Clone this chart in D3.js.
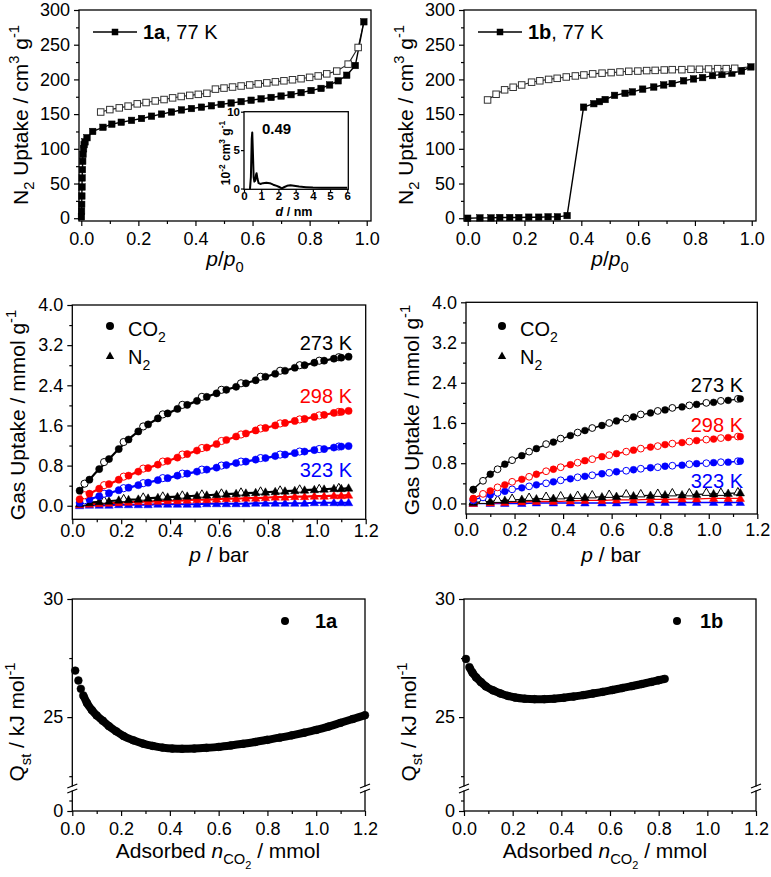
<!DOCTYPE html>
<html><head><meta charset="utf-8">
<script src="https://cdn.jsdelivr.net/npm/d3@7"></script>
<style>body{margin:0;background:#fff}</style>
</head><body><script>
// ---------------- DATA ----------------
// Panel (a) top-left: 1a N2 at 77 K
const n2aAdsP = [0.0005,0.001,0.0015,0.002,0.0025,0.003,0.004,0.005,0.006,0.008,0.010,0.013,0.02,0.04,0.076,0.107,0.14,0.176,0.211,0.246,0.281,0.316,0.351,0.386,0.421,0.456,0.49,0.525,0.56,0.595,0.63,0.665,0.70,0.735,0.77,0.805,0.84,0.87,0.90,0.93,0.96,0.99];
const n2aAdsV = [2,10,20,32,45,58,70,82,92,100,106,110,116,125,131,135.5,138.3,141,143.7,147,150,153,156,158,160,162,164,166,168,170,172,174,176,178,181,184,187,192,198,206,220,283];
const n2aDesP = [0.99,0.97,0.935,0.895,0.86,0.83,0.80,0.77,0.74,0.71,0.68,0.65,0.62,0.59,0.56,0.53,0.50,0.47,0.44,0.41,0.38,0.35,0.32,0.29,0.259,0.227,0.196,0.164,0.133,0.10,0.068];
const n2aDesV = [283,246,222,212,208,205,203,201,199.5,198,196.5,195,193.5,192,190.5,189,187.5,186,180,178.5,177,175.4,173.4,171,169,166.7,164.8,161.5,159,156.5,153];
// Inset: pore size distribution
const psdD = [0.30,0.35,0.40,0.45,0.48,0.52,0.56,0.60,0.65,0.70,0.73,0.78,0.85,0.95,1.1,1.3,1.5,1.7,1.9,2.05,2.2,2.35,2.5,2.7,2.9,3.2,3.6,4.0,4.5,5.0,5.5,6.0];
const psdV = [0,0,1.5,6.5,7.3,4.5,1.5,0.9,1.0,1.8,2.0,1.3,0.7,0.6,0.7,0.75,0.7,0.5,0.35,0.2,0.02,0.2,0.35,0.42,0.35,0.25,0.18,0.12,0.1,0.1,0.1,0.1];
// Panel (b) top-right: 1b N2 at 77 K
const n2bAdsP = [0.0,0.043,0.082,0.113,0.148,0.18,0.215,0.25,0.283,0.316,0.35,0.408,0.444,0.464,0.484,0.517,0.554,0.58,0.616,0.655,0.69,0.72,0.76,0.795,0.827,0.862,0.895,0.93,0.964,0.997];
const n2bAdsV = [0,0.5,0.5,1,1,1,1.5,1.5,2,2,3.8,160,165,168,171,177,180,182,186,189,192,194,198,200.7,202.6,205.5,207,209,212,218];
const n2bDesP = [0.997,0.94,0.91,0.88,0.848,0.816,0.786,0.754,0.72,0.692,0.66,0.63,0.599,0.567,0.536,0.505,0.473,0.44,0.409,0.379,0.347,0.315,0.285,0.254,0.225,0.19,0.16,0.13,0.10,0.07];
const n2bDesV = [218,216,215.5,215.5,215,214.6,214.6,214,214,213.6,213,212.7,212,211.7,210.7,209.8,209,208,206.4,205,203.5,201.6,200,198,196,192,188.7,185,178.6,170.4];
// Panel (c) middle-left: 1a gas uptake
const pAds1a = [0.03,0.07,0.11,0.15,0.19,0.23,0.27,0.31,0.35,0.39,0.43,0.47,0.51,0.55,0.59,0.63,0.67,0.71,0.75,0.79,0.83,0.87,0.91,0.95,0.99,1.03,1.07,1.10,1.13];
const co2a273 = [0.30,0.52,0.73,0.93,1.13,1.32,1.48,1.62,1.74,1.84,1.93,2.01,2.09,2.17,2.24,2.31,2.37,2.44,2.50,2.57,2.63,2.69,2.75,2.80,2.85,2.89,2.93,2.95,2.97];
const co2a298 = [0.13,0.24,0.34,0.43,0.52,0.60,0.68,0.75,0.82,0.89,0.96,1.03,1.10,1.16,1.23,1.31,1.38,1.44,1.50,1.55,1.60,1.65,1.69,1.73,1.77,1.81,1.85,1.87,1.89];
const co2a323 = [0.06,0.13,0.19,0.25,0.31,0.36,0.41,0.46,0.51,0.55,0.60,0.64,0.68,0.72,0.76,0.81,0.85,0.88,0.92,0.95,0.99,1.02,1.05,1.08,1.11,1.13,1.16,1.18,1.19];
const n2a273 = [0.04,0.06,0.08,0.09,0.11,0.12,0.13,0.15,0.16,0.17,0.18,0.19,0.20,0.21,0.22,0.23,0.24,0.25,0.26,0.27,0.28,0.29,0.30,0.31,0.32,0.33,0.34,0.34,0.35];
const n2a298 = [0.02,0.03,0.04,0.05,0.06,0.07,0.08,0.08,0.09,0.10,0.10,0.11,0.12,0.12,0.13,0.14,0.14,0.15,0.15,0.16,0.17,0.17,0.18,0.18,0.19,0.19,0.20,0.20,0.21];
const n2a323 = [0.00,0.01,0.01,0.01,0.02,0.02,0.02,0.02,0.03,0.03,0.03,0.03,0.03,0.04,0.04,0.04,0.04,0.04,0.05,0.05,0.05,0.05,0.05,0.05,0.06,0.06,0.06,0.06,0.06];
const pDes1a = [0.05,0.13,0.21,0.29,0.37,0.45,0.53,0.61,0.69,0.77,0.85,0.93,1.01,1.09];
const co2a273d = [0.44,0.87,1.27,1.58,1.82,2.01,2.17,2.31,2.44,2.57,2.69,2.80,2.89,2.96];
const co2a298d = [0.21,0.41,0.58,0.74,0.88,1.02,1.15,1.29,1.42,1.54,1.64,1.72,1.80,1.87];
const co2a323d = [0.11,0.24,0.35,0.45,0.55,0.64,0.72,0.80,0.88,0.95,1.02,1.08,1.13,1.18];
const n2a273d = [0.07,0.11,0.14,0.17,0.19,0.21,0.23,0.25,0.27,0.29,0.31,0.33,0.34,0.36];
// Panel (d) middle-right: 1b gas uptake
const pAds1b = [0.03,0.10,0.16,0.23,0.29,0.36,0.43,0.49,0.56,0.62,0.69,0.76,0.82,0.89,0.95,1.02,1.08,1.13];
const co2b273 = [0.28,0.58,0.78,0.95,1.09,1.22,1.35,1.45,1.55,1.64,1.72,1.80,1.86,1.92,1.97,2.01,2.05,2.08];
const co2b298 = [0.10,0.25,0.37,0.48,0.58,0.68,0.77,0.85,0.93,0.99,1.06,1.12,1.17,1.21,1.25,1.28,1.31,1.33];
const co2b323 = [0.07,0.17,0.24,0.31,0.37,0.43,0.49,0.54,0.59,0.63,0.67,0.71,0.74,0.76,0.79,0.81,0.82,0.84];
const n2b273 = [0.02,0.04,0.06,0.08,0.09,0.10,0.11,0.12,0.13,0.14,0.15,0.16,0.17,0.17,0.18,0.19,0.20,0.21];
const n2b298 = [0.00,0.01,0.02,0.03,0.04,0.04,0.05,0.06,0.06,0.07,0.07,0.08,0.08,0.09,0.09,0.10,0.10,0.10];
const n2b323 = [0.00,0.00,0.00,0.00,0.01,0.01,0.01,0.01,0.01,0.01,0.02,0.02,0.02,0.02,0.02,0.02,0.02,0.02];
const pDes1b = [0.03,0.07,0.13,0.19,0.26,0.33,0.39,0.46,0.52,0.59,0.66,0.72,0.79,0.85,0.92,0.99,1.05,1.12];
const co2b273d = [0.27,0.45,0.68,0.86,1.03,1.18,1.29,1.41,1.50,1.60,1.69,1.77,1.84,1.90,1.95,2.00,2.04,2.08];
const co2b298d = [0.09,0.19,0.32,0.43,0.53,0.64,0.72,0.81,0.88,0.96,1.03,1.09,1.14,1.19,1.23,1.27,1.30,1.33];
const co2b323d = [0.06,0.12,0.21,0.28,0.34,0.40,0.46,0.52,0.56,0.61,0.65,0.69,0.72,0.75,0.78,0.80,0.82,0.84];
const n2b273d = [0.04,0.06,0.08,0.10,0.12,0.14,0.15,0.16,0.17,0.18,0.19,0.19,0.20,0.21,0.21,0.22,0.22,0.23];
// Panel (e) bottom-left: Qst 1a
const qaN = [0.012,0.025,0.035,0.045,0.06,0.08,0.10,0.125,0.15,0.18,0.21,0.25,0.29,0.33,0.37,0.41,0.45,0.50,0.55,0.60,0.65,0.70,0.75,0.80,0.85,0.90,0.95,1.00,1.05,1.10,1.15,1.20];
const qaQ = [26.97,26.55,26.2,25.92,25.6,25.3,25.07,24.85,24.62,24.4,24.2,24.02,23.88,23.78,23.71,23.67,23.66,23.67,23.7,23.74,23.8,23.87,23.95,24.04,24.13,24.23,24.34,24.46,24.6,24.76,24.92,25.08];
// Panel (f) bottom-right: Qst 1b
const qbN = [0.008,0.022,0.035,0.05,0.07,0.09,0.12,0.15,0.18,0.21,0.25,0.29,0.33,0.37,0.41,0.45,0.49,0.53,0.57,0.61,0.65,0.69,0.73,0.77,0.80,0.825];
const qbQ = [27.46,27.12,26.88,26.68,26.48,26.3,26.13,26.0,25.9,25.83,25.78,25.76,25.76,25.78,25.82,25.87,25.93,26.0,26.07,26.15,26.23,26.31,26.4,26.49,26.56,26.62];
// Tick values
const ticksRel = [0,0.2,0.4,0.6,0.8,1.0], ticksRelMinor = [0.1,0.3,0.5,0.7,0.9];
const ticksN2 = [0,50,100,150,200,250,300], ticksN2Minor = [25,75,125,175,225,275];
const ticksBar = [0,0.2,0.4,0.6,0.8,1.0,1.2], ticksBarMinor = [0.1,0.3,0.5,0.7,0.9,1.1];
const ticksUp = [0,0.8,1.6,2.4,3.2,4.0], ticksUpMinor = [0.4,1.2,2.0,2.8,3.6];
const ticksQ = [25,30], ticksQMinor = [22.5,27.5], ticksQLow = [0], ticksQLowMinor = [1];
const insetXT = [0,1,2,3,4,5,6], insetYT = [0,5,10];

// ---------------- DRAWING ----------------
const FONT = '"Liberation Sans", Arial, Helvetica, sans-serif';
const svg = d3.select("body").append("svg").attr("width",771).attr("height",877)
  .style("font-family",FONT);
svg.append("rect").attr("width",771).attr("height",877).attr("fill","#fff");

function rich(parent, x, y, parts, size, opt={}) {
  const t = parent.append("text").attr("x",x).attr("y",y).attr("font-size",size)
    .attr("text-anchor",opt.anchor||"start").attr("fill",opt.fill||"#000");
  if (opt.rotate) t.attr("transform",`rotate(-90,${x},${y})`);
  if (opt.bold) t.attr("font-weight","bold");
  let cur = 0;
  parts.forEach(p => {
    let shift = 0, fs = size;
    if (p.s==='sub'){shift=size*0.3; fs=size*0.7;}
    else if (p.s==='sup'){shift=-size*0.42; fs=size*0.7;}
    else if (p.s==='sub2'){shift=size*0.5; fs=size*0.52;}
    const ts = t.append("tspan").text(p.t).attr("dy",(shift-cur).toFixed(2)).attr("font-size",fs);
    cur = shift;
    if (p.i) ts.attr("font-style","italic");
    if (p.b) ts.attr("font-weight","bold");
  });
  return t;
}

function styleAxis(g, size, bold) {
  g.select(".domain").remove();
  g.attr("font-family",FONT).attr("font-size",size);
  g.selectAll("line").attr("stroke","#000").attr("stroke-width",1.2);
  g.selectAll("text").attr("fill","#000");
  if (bold) g.attr("font-weight","bold");
}
function xAxisAt(parent, x, yPos, major, minor, fmt, size=18, tl=5, pad=6, bold=false) {
  const g = parent.append("g").attr("transform",`translate(0,${yPos})`)
    .call(d3.axisBottom(x).tickValues(major).tickSize(tl).tickPadding(pad).tickFormat(fmt));
  styleAxis(g,size,bold);
  if (minor.length) {
    const m = parent.append("g").attr("transform",`translate(0,${yPos})`)
      .call(d3.axisBottom(x).tickValues(minor).tickSize(tl*0.6).tickFormat(""));
    styleAxis(m,size,bold);
  }
}
function yAxisAt(parent, y, xPos, major, minor, fmt, size=18, tl=5, pad=4, bold=false) {
  const g = parent.append("g").attr("transform",`translate(${xPos},0)`)
    .call(d3.axisLeft(y).tickValues(major).tickSize(tl).tickPadding(pad).tickFormat(fmt));
  styleAxis(g,size,bold);
  if (minor.length) {
    const m = parent.append("g").attr("transform",`translate(${xPos},0)`)
      .call(d3.axisLeft(y).tickValues(minor).tickSize(tl*0.6).tickFormat(""));
    styleAxis(m,size,bold);
  }
}
function frame(parent, x, y, fill) {
  const [x0,x1] = x.range(), [y1,y0] = y.range();
  parent.append("rect").attr("x",x0).attr("y",y0).attr("width",x1-x0).attr("height",y1-y0)
    .attr("fill",fill||"none").attr("stroke","#000").attr("stroke-width",1.3);
}
function zipXY(a,b){ return a.map((v,i)=>[v,b[i]]); }
function squares(g, data, x, y, s, filled) {
  g.selectAll(null).data(data).enter().append("rect")
    .attr("x",d=>x(d[0])-s/2).attr("y",d=>y(d[1])-s/2).attr("width",s).attr("height",s)
    .attr("fill",filled?"#000":"#fff").attr("stroke",filled?"#000":"#333").attr("stroke-width",filled?0.5:1);
}
function circles(g, data, x, y, r, color, filled) {
  g.selectAll(null).data(data).enter().append("circle")
    .attr("cx",d=>x(d[0])).attr("cy",d=>y(d[1])).attr("r",r)
    .attr("fill",filled?color:"#fff").attr("stroke",color).attr("stroke-width",filled?0.5:1);
}
const triPath = "M0,-4.4L4.2,3L-4.2,3Z";
function triangles(g, data, x, y, color, filled) {
  g.selectAll(null).data(data).enter().append("path").attr("d",triPath)
    .attr("transform",d=>`translate(${x(d[0])},${y(d[1])})`)
    .attr("fill",filled?color:"#fff").attr("stroke",color).attr("stroke-width",filled?0.5:1);
}
function path(g, data, x, y, color, w, curve) {
  g.append("path").datum(data)
    .attr("d",d3.line().x(d=>x(d[0])).y(d=>y(d[1])).curve(curve||d3.curveLinear))
    .attr("fill","none").attr("stroke",color).attr("stroke-width",w).attr("stroke-linejoin","round");
}

// ===== Top panels (N2 77 K) =====
function topPanel(x, y, ads, des, legendText, titleX) {
  const g = svg.append("g");
  xAxisAt(g, x, y.range()[0], ticksRel, ticksRelMinor, d3.format(".1f"));
  yAxisAt(g, y, x.range()[0], ticksN2, ticksN2Minor, d3.format("d"));
  path(g, des, x, y, "#222", 1.1);
  path(g, ads, x, y, "#000", 1.4);
  squares(g, ads, x, y, 6.5, true);
  squares(g, des.slice(1), x, y, 6.5, false);
  frame(g, x, y);
  const lx = x.range()[0];
  g.append("line").attr("x1",lx+14).attr("x2",lx+58).attr("y1",32).attr("y2",32).attr("stroke","#000").attr("stroke-width",1.4);
  g.append("rect").attr("x",lx+36-3.25).attr("y",32-3.25).attr("width",6.5).attr("height",6.5).attr("fill","#000");
  rich(g, lx+64, 39, [{t:legendText,b:true},{t:", 77 K"}], 20);
  const cx = (x.range()[0]+x.range()[1])/2;
  rich(g, cx, 266, [{t:"p",i:true},{t:"/"},{t:"p",i:true},{t:"0",s:"sub"}], 21, {anchor:"middle"});
  rich(g, titleX, 115, [{t:"N"},{t:"2",s:"sub"},{t:" Uptake / cm"},{t:"3",s:"sup"},{t:" g"},{t:"-1",s:"sup"}], 21, {anchor:"middle",rotate:true});
  return g;
}
const xA = d3.scaleLinear([-0.008,1.015],[79,371]);
const yA = d3.scaleLinear([-4,300],[221,10]);
topPanel(xA, yA, zipXY(n2aAdsP,n2aAdsV), zipXY(n2aDesP,n2aDesV), "1a", 28);
const xB = d3.scaleLinear([-0.013,1.015],[464,756]);
const yB = d3.scaleLinear([-4,300],[221,10]);
topPanel(xB, yB, zipXY(n2bAdsP,n2bAdsV), zipXY(n2bDesP,n2bDesV), "1b", 413);

// Inset
{
  const xi = d3.scaleLinear([0,6.06],[244,348.3]);
  const yi = d3.scaleLinear([-0.1,10],[189.3,111.7]);
  const gi = svg.append("g");
  gi.append("rect").attr("x",244).attr("y",111.7).attr("width",104.3).attr("height",77.6).attr("fill","#fff");
  path(gi, zipXY(psdD,psdV), xi, yi, "#000", 2);
  xAxisAt(gi, xi, 189.3, insetXT, [], d3.format("d"), 11.5, 3, 0, true);
  yAxisAt(gi, yi, 244, insetYT, [], d3.format("d"), 11.5, 3, 1, true);
  frame(gi, xi, yi);
  rich(gi, 262, 134, [{t:"0.49"}], 15, {bold:true});
  rich(gi, 294, 216, [{t:"d",i:true},{t:" / nm"}], 12.5, {anchor:"middle",bold:true});
  rich(gi, 230, 153, [{t:"10"},{t:"-2",s:"sup"},{t:" cm"},{t:"3",s:"sup"},{t:" g"},{t:"-1",s:"sup"}], 12, {anchor:"middle",rotate:true,bold:true});
}

// ===== Middle panels (gas uptake) =====
function midPanel(x, y, pA, ads, pD, des, lw, r, labelRight, labelY, legendX, titleX, titleY, tickPad) {
  const g = svg.append("g");
  xAxisAt(g, x, y.range()[0], ticksBar, ticksBarMinor, d3.format(".1f"), 18, 5, tickPad);
  yAxisAt(g, y, x.range()[0], ticksUp, ticksUpMinor, d3.format(".1f"));
  const colors = ["#000","#ff0000","#0000ff"];
  [2,1,0].forEach(k => {
    const d = zipXY(pA, ads.n2[k]);
    path(g, d, x, y, colors[k], lw, d3.curveMonotoneX);
    if (des.n2[k]) triangles(g, zipXY(pD, des.n2[k]), x, y, colors[k], false);
    triangles(g, d, x, y, colors[k], true);
  });
  [2,1,0].forEach(k => {
    const d = zipXY(pA, ads.co2[k]);
    path(g, d, x, y, colors[k], lw, d3.curveMonotoneX);
    circles(g, zipXY(pD, des.co2[k]), x, y, r, colors[k], false);
    circles(g, d, x, y, r, colors[k], true);
  });
  frame(g, x, y);
  ["273 K","298 K","323 K"].forEach((t,k) => {
    rich(g, labelRight, labelY[k], [{t}], 20, {anchor:"end", fill:colors[k]});
  });
  g.append("circle").attr("cx",legendX).attr("cy",326).attr("r",4).attr("fill","#000");
  rich(g, legendX+18, 336, [{t:"CO"},{t:"2",s:"sub"}], 20);
  g.append("path").attr("d",triPath).attr("transform",`translate(${legendX},356)`).attr("fill","#000");
  rich(g, legendX+18, 364, [{t:"N"},{t:"2",s:"sub"}], 20);
  rich(g, titleX, 562, [{t:"p",i:true},{t:" / bar"}], 21, {anchor:"middle"});
  rich(g, x.range()[0]-47, titleY, [{t:"Gas Uptake / mmol g"},{t:"-1",s:"sup"}], 21, {anchor:"middle",rotate:true});
}
midPanel(d3.scaleLinear([0,1.2],[72.3,365.7]), d3.scaleLinear([-0.27,4.0],[519.3,305]),
  pAds1a, {co2:[co2a273,co2a298,co2a323], n2:[n2a273,n2a298,n2a323]},
  pDes1a, {co2:[co2a273d,co2a298d,co2a323d], n2:[n2a273d,null,null]},
  2.2, 3.6, 352, [350,403,477], 110, 219, 415, 0);
midPanel(d3.scaleLinear([0,1.2],[466,757.3]), d3.scaleLinear([-0.21,4.0],[514,302.3]),
  pAds1b, {co2:[co2b273,co2b298,co2b323], n2:[n2b273,n2b298,n2b323]},
  pDes1b, {co2:[co2b273d,co2b298d,co2b323d], n2:[n2b273d,null,null]},
  1.4, 3.4, 743, [392,432,488], 502, 611, 410, 4);

// ===== Bottom panels (Qst) =====
function qPanel(x, qn, qq, label, titleX, lineStart, legX, legTextX) {
  const g = svg.append("g");
  const yU = d3.scaleLinear([22,30],[788,599]);
  const yL = d3.scaleLinear([0,2],[811,790]);
  const x0 = x.range()[0], x1 = x.range()[1];
  xAxisAt(g, x, 811, ticksBar, ticksBarMinor, d3.format(".1f"));
  yAxisAt(g, yU, x0, ticksQ, ticksQMinor, d3.format("d"));
  yAxisAt(g, yL, x0, ticksQLow, ticksQLowMinor, d3.format("d"));
  const d = zipXY(qn, qq);
  path(g, d.slice(lineStart), x, yU, "#000", 8, d3.curveMonotoneX);
  circles(g, d, x, yU, 3.9, "#000", true);
  g.append("rect").attr("x",x0).attr("y",599).attr("width",x1-x0).attr("height",811-599)
    .attr("fill","none").attr("stroke","#000").attr("stroke-width",1.3);
  [x0,x1].forEach(xx => {
    g.append("rect").attr("x",xx-2).attr("y",786.5).attr("width",4).attr("height",4).attr("fill","#fff");
    g.append("line").attr("x1",xx-5).attr("y1",788).attr("x2",xx+5).attr("y2",784).attr("stroke","#000").attr("stroke-width",1.3);
    g.append("line").attr("x1",xx-5).attr("y1",793).attr("x2",xx+5).attr("y2",789).attr("stroke","#000").attr("stroke-width",1.3);
  });
  g.append("circle").attr("cx",legX).attr("cy",621).attr("r",4).attr("fill","#000");
  rich(g, legTextX, 628, [{t:label}], 20, {bold:true});
  rich(g, titleX, 858, [{t:"Adsorbed "},{t:"n",i:true},{t:"CO",s:"sub"},{t:"2",s:"sub2"},{t:" / mmol"}], 21, {anchor:"middle"});
  rich(g, x0-48, 722, [{t:"Q"},{t:"st",s:"sub"},{t:" / kJ mol"},{t:"-1",s:"sup"}], 21, {anchor:"middle",rotate:true});
}
qPanel(d3.scaleLinear([0,1.2],[72.3,365]), qaN, qaQ, "1a", 218, 3, 285, 315);
qPanel(d3.scaleLinear([0,1.2],[464,756]), qbN, qbQ, "1b", 605, 1, 677, 700);
</script></body></html>
